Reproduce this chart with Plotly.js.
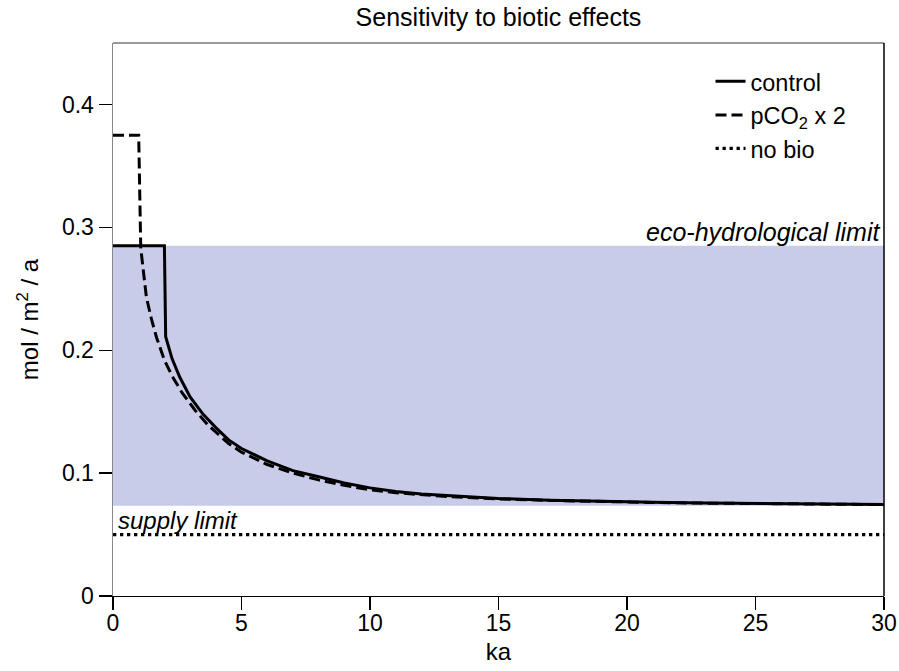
<!DOCTYPE html>
<html>
<head>
<meta charset="utf-8">
<script src="https://cdn.plot.ly/plotly-3.0.1.min.js"></script>
<style>html,body{margin:0;padding:0;background:#fff;}#chart{width:899px;height:671px;}</style>
</head>
<body>
<div id="chart"></div>
<script>
// ---- data ----
const controlX = [0, 2.0, 2.05, 2.3, 2.6, 3.0, 3.5, 4.0, 4.5, 5.0, 6.0, 7.0, 8.0, 9.0, 10, 11, 12, 13, 14, 15, 17, 19, 21, 23, 25, 27, 30];
const controlY = [0.285, 0.285, 0.211, 0.193, 0.178, 0.162, 0.148, 0.137, 0.127, 0.120, 0.110, 0.102, 0.097, 0.092, 0.088, 0.085, 0.083, 0.0818, 0.0805, 0.0794, 0.078, 0.0768, 0.0762, 0.0757, 0.0752, 0.0749, 0.0745];

const pco2X = [0, 1.0, 1.08, 1.3, 1.5, 1.7, 2.0, 2.3, 2.7, 3.2, 3.7, 4.5, 5.0, 6.0, 7.0, 8.0, 9.0, 10, 11, 12, 13, 14, 15, 17, 19, 21, 23, 25, 27, 30];
const pco2Y = [0.375, 0.375, 0.283, 0.243, 0.225, 0.210, 0.192, 0.179, 0.165, 0.151, 0.139, 0.124, 0.117, 0.107, 0.100, 0.0945, 0.0900, 0.0865, 0.0840, 0.0822, 0.0810, 0.0800, 0.0790, 0.0778, 0.0767, 0.0761, 0.0756, 0.0751, 0.0748, 0.0744];

const noBioX = [0, 30];
const noBioY = [0.05, 0.05];

const ecoBand = [0.0735, 0.285];   // shaded eco-hydrological band (lower, upper)
const xTicks = [0, 5, 10, 15, 20, 25, 30];
const yTicks = [0, 0.1, 0.2, 0.3, 0.4];
const yTickText = ['0', '0.1', '0.2', '0.3', '0.4'];
const seriesNames = ['control', 'pCO<sub>2</sub> x 2', 'no bio'];

const FONT = 'Liberation Sans, Arial, Helvetica, sans-serif';

const traces = [
  {x: controlX, y: controlY, name: seriesNames[0], type: 'scatter', mode: 'lines',
   line: {color: '#000', width: 3}},
  {x: pco2X, y: pco2Y, name: seriesNames[1], type: 'scatter', mode: 'lines',
   line: {color: '#000', width: 3, dash: '11px,5px'}},
  {x: noBioX, y: noBioY, name: seriesNames[2], type: 'scatter', mode: 'lines',
   line: {color: '#000', width: 3.3, dash: '3.3px,3.7px'}}
];

const layout = {
  width: 899, height: 671,
  margin: {l: 113, r: 15, t: 43, b: 75, pad: 0},
  paper_bgcolor: '#fff', plot_bgcolor: '#fff',
  font: {family: FONT, size: 23, color: '#000'},
  title: {text: 'Sensitivity to biotic effects', font: {family: FONT, size: 25, color: '#000'},
          x: 0.5545, xanchor: 'center', y: 0.975, yanchor: 'middle'},
  xaxis: {
    range: [0, 30], tickvals: xTicks, ticktext: xTicks.map(String),
    ticks: 'outside', ticklen: 13, tickwidth: 1.3, tickcolor: '#000',
    showline: true, linecolor: '#000', linewidth: 1.3, mirror: false,
    showgrid: false, zeroline: false, ticklabelstandoff: -7,
    tickfont: {family: FONT, size: 23, color: '#000'},
    title: {text: 'ka', font: {family: FONT, size: 24, color: '#000'}, standoff: 8}
  },
  yaxis: {
    range: [0, 0.45], tickvals: yTicks, ticktext: yTickText,
    ticks: 'outside', ticklen: 13, tickwidth: 1.3, tickcolor: '#000',
    showline: true, linecolor: '#888', linewidth: 1.5, mirror: false,
    showgrid: false, zeroline: false,
    tickfont: {family: FONT, size: 23, color: '#000'},
    title: {text: 'mol / m<sup>2</sup> / a', font: {family: FONT, size: 24, color: '#000'}, standoff: 16}
  },
  showlegend: true,
  legend: {x: 0.775, xanchor: 'left', y: 0.97, yanchor: 'top',
           bgcolor: 'rgba(0,0,0,0)', borderwidth: 0,
           font: {family: FONT, size: 23.5, color: '#000'}},
  shapes: [
    {type: 'rect', xref: 'x', yref: 'y', x0: xTicks[0], x1: xTicks[xTicks.length - 1],
     y0: ecoBand[0], y1: ecoBand[1], fillcolor: '#c8cce9', line: {width: 0}, layer: 'below'},
    {type: 'line', xref: 'paper', yref: 'paper', x0: 0, x1: 1, y0: 1, y1: 1,
     line: {color: '#777', width: 1.5}},
    {type: 'line', xref: 'paper', yref: 'paper', x0: 1, x1: 1, y0: 0, y1: 1,
     line: {color: '#000', width: 1.5}}
  ],
  annotations: [
    {text: '<i>eco-hydrological limit</i>', xref: 'x', yref: 'y', x: 30, y: ecoBand[1],
     xanchor: 'right', yanchor: 'bottom', xshift: -2, yshift: -2, showarrow: false,
     font: {family: FONT, size: 25, color: '#000'}},
    {text: '<i>supply limit</i>', xref: 'x', yref: 'y', x: 0, y: noBioY[0],
     xanchor: 'left', yanchor: 'bottom', xshift: 3, yshift: -1, showarrow: false,
     font: {family: FONT, size: 24, color: '#000'}}
  ],
  hovermode: false
};

Plotly.newPlot('chart', traces, layout, {staticPlot: true, displayModeBar: false});
</script>
</body>
</html>
